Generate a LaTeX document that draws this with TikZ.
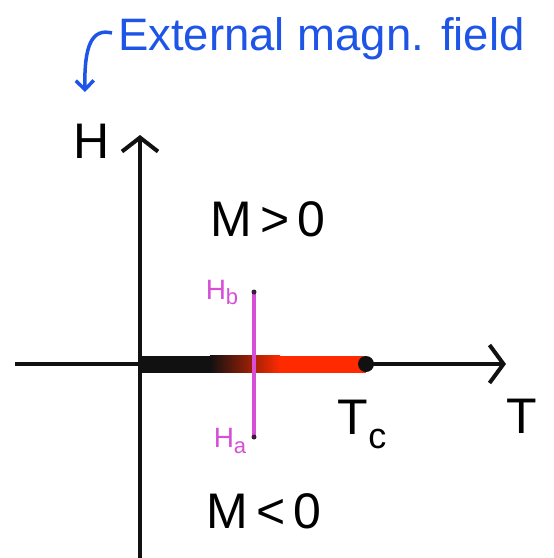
\documentclass[tikz,border=0pt]{standalone}
\usepackage{fontspec}
\setmainfont{Liberation Sans}
\usetikzlibrary{arrows.meta, positioning, calc}
\definecolor{penBlue}{HTML}{1f55e6}
\definecolor{penRed}{HTML}{ff2a00}
\definecolor{penPink}{HTML}{d64fd6}
\definecolor{penInk}{HTML}{111111}
\def\axisY{364}
\def\axisX{140}
\def\tcX{366}
\def\hlineX{254}
\def\barT{17}

\begin{document}
\begin{tikzpicture}[x=1pt, y=-1pt,
                    font=\fontsize{50}{54}\selectfont]

    % ==========================================================
    % 1. NAMED COORDINATES
    % ==========================================================
    \useasboundingbox (0,0) rectangle (554,558);
    \coordinate (origin)  at (\axisX, \axisY);
    \coordinate (tLeft)   at (15, \axisY);
    \coordinate (tRight)  at (506, \axisY);
    \coordinate (hBottom) at (\axisX, 558);
    \coordinate (hTop)    at (\axisX, 135);
    \coordinate (tc)      at (\tcX, \axisY);
    \coordinate (hb)      at (\hlineX, 292);
    \coordinate (ha)      at (\hlineX, 437);

    % ==========================================================
    % 2. AXES
    % ==========================================================
    \draw[penInk, line width=4pt, -{Straight Barb[length=14pt, width=38pt]}]
        (tLeft) -- (tRight);
    \draw[penInk, line width=4pt, -{Straight Barb[length=14pt, width=36pt]}]
        (hBottom) -- (hTop);

    % ==========================================================
    % 3. PHASE BOUNDARY (thick bar, black fading to red)
    % ==========================================================
    \fill[penInk] ($(origin)+(0,-\barT/2)$) rectangle ($(210,\axisY)+(0,\barT/2)$);
    \shade[left color=penInk, right color=penRed]
        ($(210,\axisY)+(0,-\barT/2)$) rectangle ($(280,\axisY)+(0,\barT/2)$);
    \fill[penRed] ($(280,\axisY)+(0,-\barT/2)$) rectangle ($(tc)+(0,\barT/2)$);
    \fill[penInk] (tc) circle (8);

    % ==========================================================
    % 4. FIELD SWEEP (H_a to H_b)
    % ==========================================================
    \draw[penPink, line width=4pt] (ha) -- (hb);
    \fill[penInk!80!penPink] (hb) circle (2.5);
    \fill[penInk!80!penPink] (ha) circle (2.5);

    % ==========================================================
    % 5. LABELS
    % ==========================================================
    \node (labH)  at (92, 141)  {H};
    \node (labT)  at (522, 416) {T};
    \node (labTc) at (362, 424)
        {T\raisebox{-14pt}{\fontsize{36}{36}\selectfont c}};
    \node (labMp) at (268, 219) {M\,>\,0};
    \node (labMm) at (264, 511) {M\,<\,0};
    \node[penPink, font=\fontsize{28}{30}\selectfont] (labHb) at (222, 292)
        {H\raisebox{-5pt}{\fontsize{22}{22}\selectfont b}};
    \node[penPink, font=\fontsize{28}{30}\selectfont] (labHa) at (230, 441)
        {H\raisebox{-6pt}{\fontsize{22}{22}\selectfont a}};

    % ==========================================================
    % 6. CAPTION (external field)
    % ==========================================================
    \node[penBlue, font=\fontsize{45.5}{48}\selectfont, anchor=base west, inner sep=0pt]
        (caption) at (118, 50) {External magn. field};
    \draw[penBlue, line width=3.5pt, -{Straight Barb[length=9pt, width=18pt]}]
        (112, 33) .. controls (92,28) and (84,45) .. (85,92);

\end{tikzpicture}
\end{document}
